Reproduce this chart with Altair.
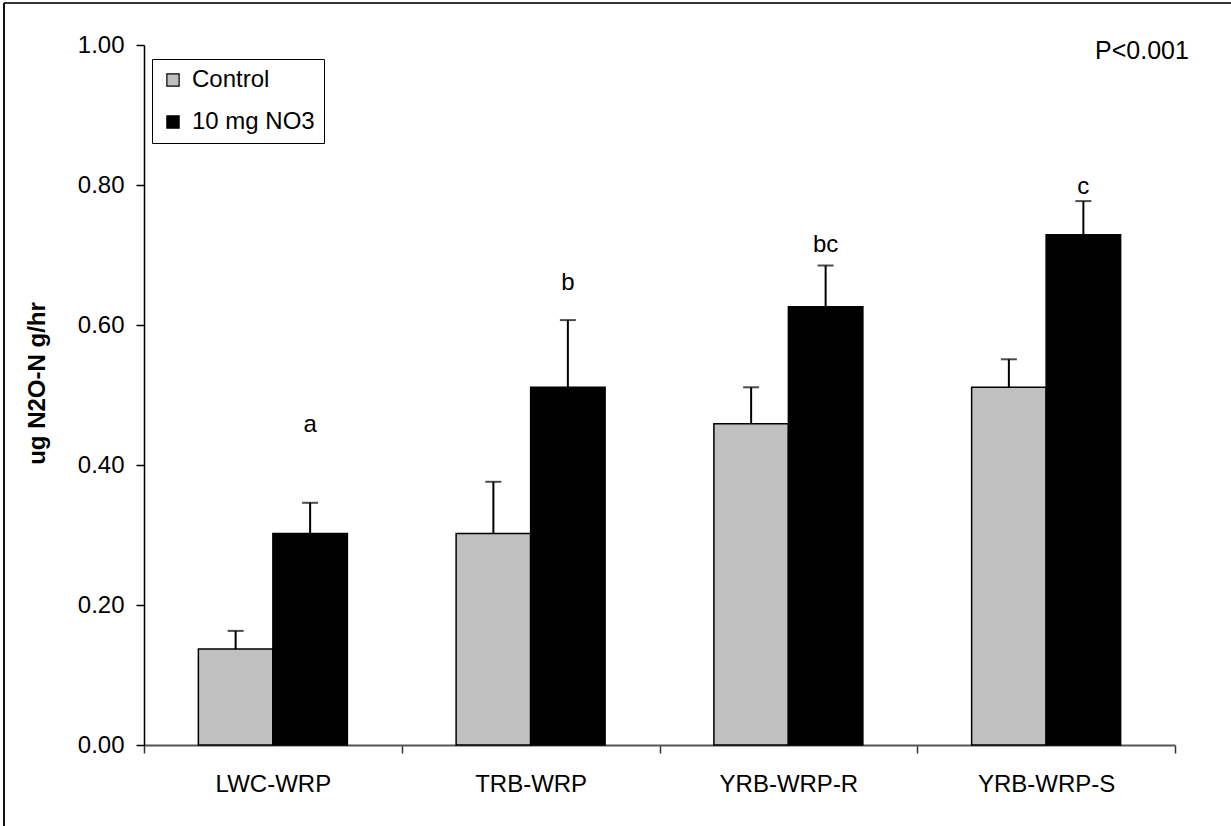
import altair as alt
import pandas as pd

# Sites and treatments
sites = ["LWC-WRP", "TRB-WRP", "YRB-WRP-R", "YRB-WRP-S"]
treatments = ["Control", "10 mg NO3"]

# Mean N2O flux (ug N2O-N g/hr) and upper end of the error bar
control_mean = [0.137, 0.302, 0.459, 0.511]
control_upper = [0.163, 0.376, 0.511, 0.551]
nitrate_mean = [0.302, 0.511, 0.626, 0.729]
nitrate_upper = [0.346, 0.607, 0.685, 0.777]

# Significance letters above the nitrate bars and their heights
letters = ["a", "b", "bc", "c"]
letter_y = [0.457, 0.660, 0.714, 0.797]

rows = []
for i, s in enumerate(sites):
    rows.append({"site": s, "trt": treatments[0], "mean": control_mean[i], "upper": control_upper[i]})
    rows.append({"site": s, "trt": treatments[1], "mean": nitrate_mean[i], "upper": nitrate_upper[i]})
df = pd.DataFrame(rows)

lab_df = pd.DataFrame({"site": sites, "trt": treatments[1], "letter": letters, "ly": letter_y})

W, H = 1031, 700
FONT = "Liberation Sans"

x_enc = alt.X(
    "site:N",
    sort=sites,
    scale=alt.Scale(domain=sites, paddingInner=0, paddingOuter=0),
    axis=alt.Axis(
        title=None,
        labelAngle=0,
        labelFontSize=24,
        labelFont=FONT,
        labelColor="#000000",
        labelPadding=19,
        tickBand="extent",
        tickSize=8,
        tickColor="#333333",
        tickWidth=1.5,
        domainColor="#555555",
        domainWidth=2,
    ),
)
xo_enc = alt.XOffset(
    "trt:N",
    sort=treatments,
    scale=alt.Scale(domain=treatments, paddingInner=0, paddingOuter=0.73),
)
y_scale = alt.Scale(domain=[0, 1], nice=False)

bars = alt.Chart(df).mark_bar(stroke="#000000", strokeWidth=1.5).encode(
    x=x_enc,
    xOffset=xo_enc,
    y=alt.Y(
        "mean:Q",
        scale=y_scale,
        axis=alt.Axis(
            title="ug N2O-N g/hr",
            titleFont=FONT,
            titleFontSize=24,
            titleFontWeight="bold",
            titleColor="#000000",
            titleAngle=-90,
            titleX=-107,
            titleY=338,
            titleAlign="center",
            titleBaseline="middle",
            values=[0, 0.2, 0.4, 0.6, 0.8, 1.0],
            format=".2f",
            labelFont=FONT,
            labelFontSize=24,
            labelColor="#000000",
            labelPadding=12,
            tickSize=8,
            tickColor="#000000",
            tickWidth=1.5,
            domainColor="#000000",
            domainWidth=1.5,
            grid=False,
        ),
    ),
    color=alt.Color(
        "trt:N",
        sort=treatments,
        scale=alt.Scale(domain=treatments, range=["#C0C0C0", "#000000"]),
        legend=alt.Legend(
            title=None,
            orient="none",
            legendX=8,
            legendY=14,
            direction="vertical",
            symbolType="square",
            symbolSize=150,
            symbolStrokeColor="#000000",
            symbolStrokeWidth=1.2,
            labelFont=FONT,
            labelFontSize=24,
            labelColor="#000000",
            labelOffset=7,
            rowPadding=18,
            padding=9,
            strokeColor="#000000",
            fillColor="#FFFFFF",
        ),
    ),
)

err_line = alt.Chart(df).mark_rule(color="#000000", strokeWidth=2).encode(
    x=x_enc, xOffset=xo_enc, y=alt.Y("mean:Q", scale=y_scale), y2="upper:Q"
)
err_cap = alt.Chart(df).mark_tick(color="#000000", size=16, thickness=2).encode(
    x=x_enc, xOffset=xo_enc, y=alt.Y("upper:Q", scale=y_scale)
)

letter_text = alt.Chart(lab_df).mark_text(
    font=FONT, fontSize=24, color="#000000", baseline="middle"
).encode(x=x_enc, xOffset=xo_enc, y=alt.Y("ly:Q", scale=y_scale), text="letter:N")

one = pd.DataFrame({"k": [0]})
p_text = alt.Chart(one).mark_text(
    text="P<0.001", font=FONT, fontSize=25, color="#000000", baseline="middle", align="center"
).encode(x=alt.value(998), y=alt.value(6))

# Frame around the whole figure
frame_top = alt.Chart(one).mark_rule(color="#333333", strokeWidth=2).encode(
    x=alt.value(-140), x2=alt.value(1087), y=alt.value(-42)
)
frame_left = alt.Chart(one).mark_rule(color="#111111", strokeWidth=2).encode(
    x=alt.value(-140), y=alt.value(-42), y2=alt.value(781)
)

chart = alt.layer(
    frame_top, frame_left, bars, err_line, err_cap, letter_text, p_text
).properties(
    width=W,
    height=H,
    autosize=alt.AutoSizeParams(type="none"),
    padding={"left": 144, "top": 45, "right": 56, "bottom": 81},
    background="#FFFFFF",
).configure_view(stroke=None)

chart.save("out.html", embed_options={"renderer": "svg", "actions": False})
